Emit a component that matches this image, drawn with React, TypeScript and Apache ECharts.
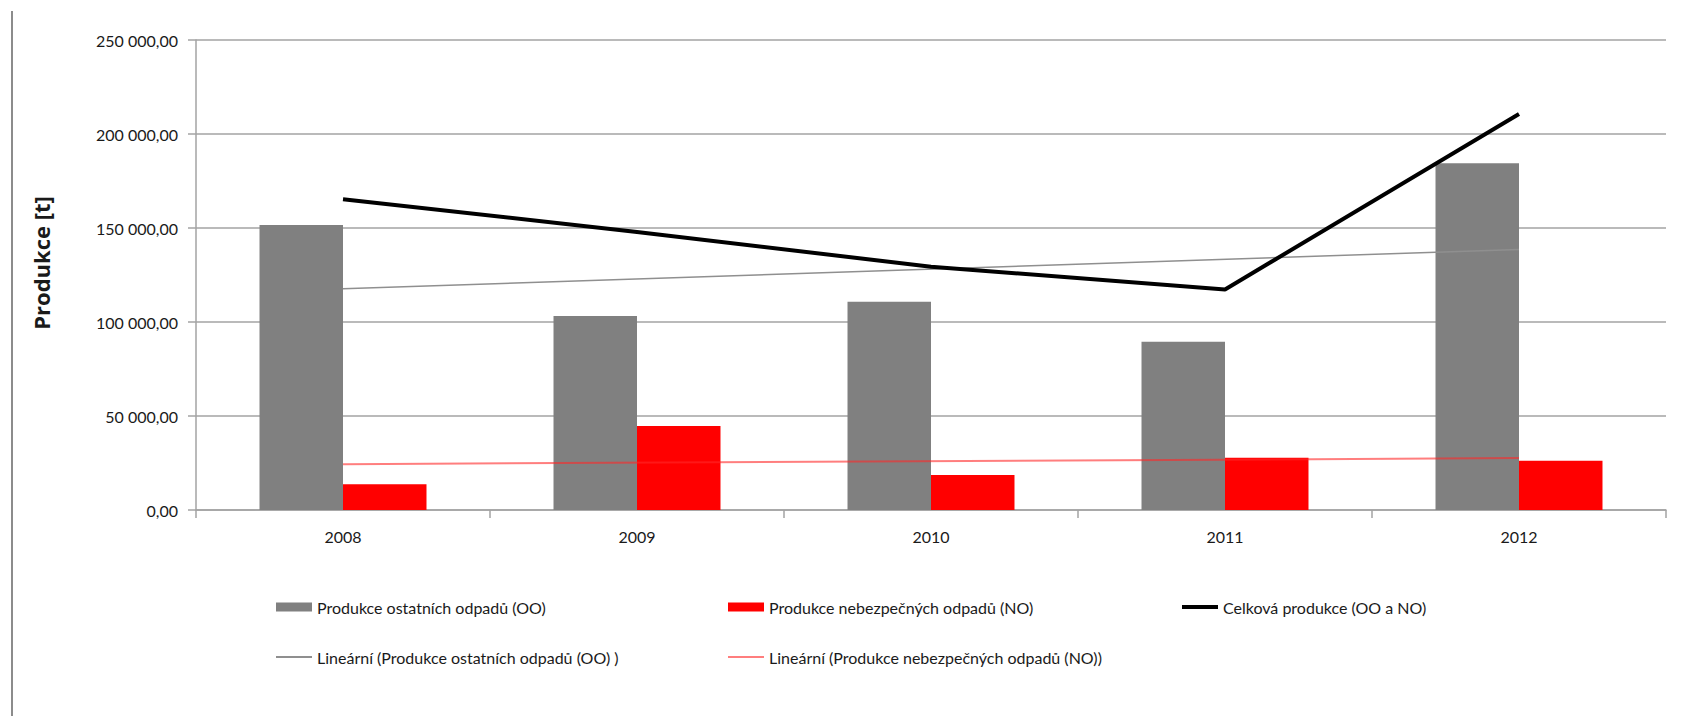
import React, { useEffect, useRef } from "react";
import * as echarts from "echarts";

const categories = ["2008", "2009", "2010", "2011", "2012"];
const ooValues = [151600, 103200, 110800, 89500, 184400];
const noValues = [13700, 44700, 18600, 27800, 26200];
const totalValues = [165300, 147900, 129400, 117300, 210600];
const ooTrendEnds = [117700, 138600];
const noTrendEnds = [24400, 27600];

const nameOO = "Produkce ostatních odpadů (OO)";
const nameNO = "Produkce nebezpečných odpadů (NO)";
const nameTotal = "Celková produkce (OO a NO)";
const nameTrendOO = "Lineární (Produkce ostatních odpadů (OO) )";
const nameTrendNO = "Lineární (Produkce nebezpečných odpadů (NO))";
const yAxisTitle = "Produkce [t]";

const FONT = "Lato";
const TEXT = "#1a1a1a";
const GRID = "#a3a3a3";

function fmt(v: number): string {
  const s = Math.round(v)
    .toString()
    .replace(/\B(?=(\d{3})+(?!\d))/g, " ");
  return s + ",00";
}

export default function App() {
  const ref = useRef<HTMLDivElement>(null);
  useEffect(() => {
    if (!ref.current) return;
    const chart = echarts.init(ref.current, undefined, { renderer: "svg" });
    const legendText = { fontFamily: FONT, fontSize: 16, color: TEXT };
    const legendBase = {
      orient: "horizontal",
      padding: 0,
      itemWidth: 36,
      itemHeight: 9,
      icon: "rect",
      textStyle: legendText,
      selectedMode: false,
    };
    chart.setOption({
      animation: false,
      backgroundColor: "#ffffff",
      textStyle: { fontFamily: FONT },
      grid: { left: 196, right: 42, top: 40, bottom: 206, containLabel: false },
      legend: [
        { ...legendBase, data: [nameOO], left: 276, top: 599 },
        { ...legendBase, data: [nameNO], left: 728, top: 599 },
        { ...legendBase, data: [nameTotal], left: 1182, top: 599, itemHeight: 4 },
        { ...legendBase, data: [nameTrendOO], left: 276, top: 649, itemHeight: 2 },
        { ...legendBase, data: [nameTrendNO], left: 728, top: 649, itemHeight: 2 },
      ],
      xAxis: {
        type: "category",
        data: categories,
        boundaryGap: true,
        axisLine: { lineStyle: { color: GRID, width: 1.5 } },
        axisTick: { show: true, length: 8, lineStyle: { color: GRID, width: 1.5 } },
        axisLabel: { fontFamily: FONT, fontSize: 16, color: TEXT, margin: 18 },
        splitLine: { show: false },
      },
      yAxis: {
        type: "value",
        min: 0,
        max: 250000,
        interval: 50000,
        axisLine: { show: true, lineStyle: { color: GRID, width: 1.5 } },
        axisTick: { show: true, length: 8, lineStyle: { color: GRID, width: 1.5 } },
        axisLabel: {
          fontFamily: FONT,
          fontSize: 16,
          color: TEXT,
          margin: 18,
          formatter: (v: number) => fmt(v),
        },
        splitLine: { show: true, lineStyle: { color: GRID, width: 1.5 } },
      },
      graphic: [
        {
          type: "line",
          shape: { x1: 12, y1: 11, x2: 12, y2: 716 },
          style: { stroke: "#8c8c8c", lineWidth: 2 },
          silent: true,
        },
        {
          type: "text",
          x: 41,
          y: 263,
          rotation: Math.PI / 2,
          style: {
            text: yAxisTitle,
            font: "bold 22px 'Open Sans'",
            fontFamily: "Open Sans",
            fontSize: 22,
            fontWeight: "bold",
            fill: TEXT,
            align: "center",
            verticalAlign: "middle",
          },
        },
      ],
      series: [
        {
          name: nameOO,
          type: "bar",
          data: ooValues,
          barGap: "0%",
          barCategoryGap: "43.2%",
          itemStyle: { color: "#808080" },
          z: 2,
        },
        {
          name: nameNO,
          type: "bar",
          data: noValues,
          barGap: "0%",
          barCategoryGap: "43.2%",
          itemStyle: { color: "#ff0000" },
          z: 2,
        },
        {
          name: nameTotal,
          type: "line",
          data: totalValues,
          symbol: "none",
          lineStyle: { color: "#000000", width: 4 },
          itemStyle: { color: "#000000" },
          z: 5,
        },
        {
          name: nameTrendOO,
          type: "line",
          data: [
            [categories[0], ooTrendEnds[0]],
            [categories[categories.length - 1], ooTrendEnds[1]],
          ],
          symbol: "none",
          lineStyle: { color: "#8f8f8f", width: 1.5 },
          itemStyle: { color: "#8f8f8f" },
          z: 4,
        },
        {
          name: nameTrendNO,
          type: "line",
          data: [
            [categories[0], noTrendEnds[0]],
            [categories[categories.length - 1], noTrendEnds[1]],
          ],
          symbol: "none",
          lineStyle: { color: "rgba(255,40,40,0.6)", width: 2 },
          itemStyle: { color: "rgba(255,40,40,0.6)" },
          z: 4,
        },
      ],
    });
    return () => chart.dispose();
  }, []);
  return (
    <div
      ref={ref}
      style={{ position: "fixed", left: 0, top: 0, width: 1708, height: 716, background: "#fff" }}
    />
  );
}
